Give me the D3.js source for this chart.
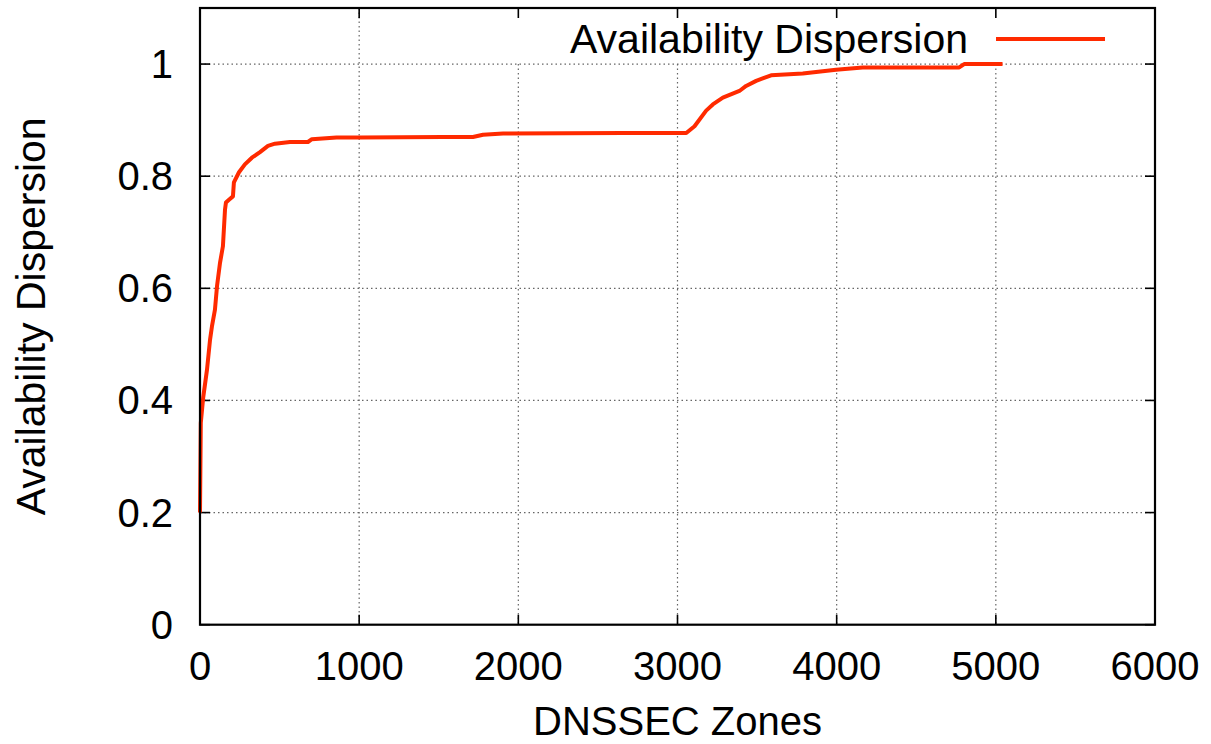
<!DOCTYPE html>
<html>
<head>
<meta charset="utf-8">
<script src="https://cdn.jsdelivr.net/npm/d3@7.9.0/dist/d3.min.js"></script>
<style>
  body { margin: 0; background: #fff; }
  svg { display: block; font-family: "Liberation Sans", Arial, Helvetica, sans-serif; }
</style>
</head>
<body>
<svg id="chart" width="1211" height="744"></svg>
<script>
// values
const zones = [0, 5, 20, 44, 63, 75, 94, 107, 126, 144, 157, 163, 182, 207, 213, 245, 282, 326, 377, 427, 471,
  565, 678, 703, 858, 1004, 1526, 1715, 1778, 1904, 2657, 3055, 3107, 3180, 3222, 3285, 3389, 3431, 3494,
  3588, 3787, 3996, 4163, 4645, 4770, 4801, 5042];
const dispersion = [0.2, 0.36, 0.405, 0.455, 0.508, 0.532, 0.562, 0.604, 0.646, 0.675, 0.74, 0.753, 0.758,
  0.764, 0.789, 0.807, 0.821, 0.833, 0.843, 0.854, 0.858, 0.861, 0.861, 0.866, 0.869, 0.869, 0.870, 0.870,
  0.874, 0.876, 0.877, 0.877, 0.889, 0.917, 0.928, 0.940, 0.952, 0.961, 0.970, 0.980, 0.983, 0.990, 0.994,
  0.994, 0.994, 1.0, 1.0];
const xTicks = [0, 1000, 2000, 3000, 4000, 5000, 6000];
const yTicks = [0, 0.2, 0.4, 0.6, 0.8, 1];
const seriesName = "Availability Dispersion";

const svg = d3.select("#chart");
const mLeft = 200, mRight = 1155, mTop = 8, mBottom = 624.7;

const x = d3.scaleLinear().domain([0, 6000]).range([mLeft, mRight]);
const y = d3.scaleLinear().domain([0, 1.1]).range([mBottom, mTop]);

// grid (dotted)
const grid = svg.append("g")
  .attr("stroke", "#666")
  .attr("stroke-width", 1.2)
  .attr("stroke-dasharray", "1.5,3");
yTicks.filter(d => d > 0).forEach(d => {
  grid.append("line").attr("x1", mLeft).attr("x2", mRight).attr("y1", y(d)).attr("y2", y(d));
});
xTicks.filter(d => d > 0 && d < 6000).forEach(d => {
  // the key box hides the grid above y = 1 from 2000 on
  grid.append("line").attr("x1", x(d)).attr("x2", x(d))
    .attr("y1", d >= 2000 ? y(1) : mTop).attr("y2", mBottom);
});

// ticks, mirrored on all four sides
const tk = svg.append("g").attr("stroke", "#000").attr("stroke-width", 1.6);
xTicks.forEach(d => {
  tk.append("line").attr("x1", x(d)).attr("x2", x(d)).attr("y1", mBottom).attr("y2", mBottom - 10);
  tk.append("line").attr("x1", x(d)).attr("x2", x(d)).attr("y1", mTop).attr("y2", mTop + 10);
});
yTicks.forEach(d => {
  tk.append("line").attr("x1", mLeft).attr("x2", mLeft + 10).attr("y1", y(d)).attr("y2", y(d));
  tk.append("line").attr("x1", mRight).attr("x2", mRight - 10).attr("y1", y(d)).attr("y2", y(d));
});

// tick labels
svg.append("g").selectAll("text").data(xTicks).join("text")
  .attr("x", d => x(d)).attr("y", 680)
  .attr("text-anchor", "middle").attr("font-size", 40)
  .text(d => d);
svg.append("g").selectAll("text").data(yTicks).join("text")
  .attr("x", 173).attr("y", d => y(d) + 14)
  .attr("text-anchor", "end").attr("font-size", 40)
  .text(d => d3.format("~g")(d));

// axis titles
svg.append("text")
  .attr("x", (mLeft + mRight) / 2).attr("y", 735)
  .attr("text-anchor", "middle").attr("font-size", 40)
  .text("DNSSEC Zones");
svg.append("text")
  .attr("transform", `translate(45,${(mTop + mBottom) / 2}) rotate(-90)`)
  .attr("text-anchor", "middle").attr("font-size", 41)
  .text("Availability Dispersion");

// curve
const line = d3.line().x((d, i) => x(zones[i])).y(d => y(d));
svg.append("path")
  .attr("d", line(dispersion))
  .attr("fill", "none")
  .attr("stroke", "#ff2a00")
  .attr("stroke-width", 4)
  .attr("stroke-linejoin", "round");

// key
svg.append("text")
  .attr("x", 968).attr("y", 53)
  .attr("text-anchor", "end").attr("font-size", 41)
  .text(seriesName);
svg.append("line")
  .attr("x1", 996).attr("x2", 1105).attr("y1", 39).attr("y2", 39)
  .attr("stroke", "#ff2a00").attr("stroke-width", 4);

// frame
svg.append("rect")
  .attr("x", mLeft).attr("y", mTop)
  .attr("width", mRight - mLeft).attr("height", mBottom - mTop)
  .attr("fill", "none").attr("stroke", "#000").attr("stroke-width", 2.2);
</script>
</body>
</html>
